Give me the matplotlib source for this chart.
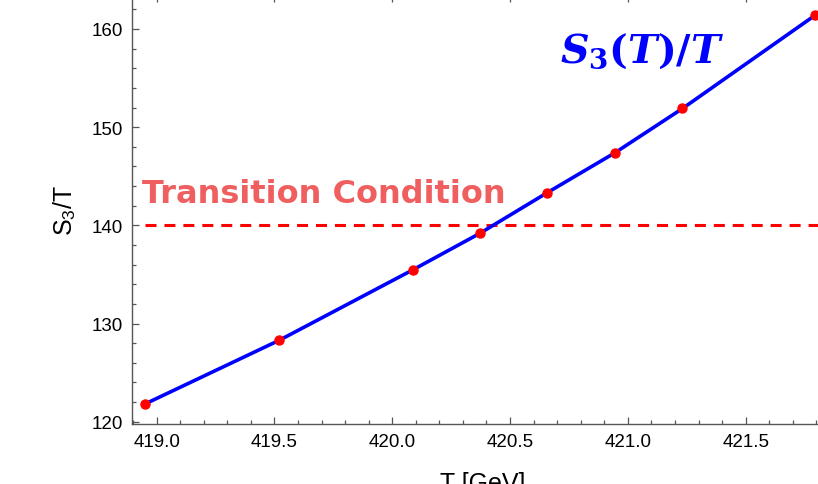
import matplotlib
matplotlib.use("Agg")
import matplotlib.pyplot as plt
from matplotlib.ticker import MultipleLocator

# S3/T versus temperature, with the nucleation condition line

T = [418.950, 419.521, 420.090, 420.373, 420.656, 420.946, 421.232, 421.795]
S3_over_T = [121.8, 128.3, 135.5, 139.2, 143.3, 147.4, 151.9, 161.4]
transition_value = 140.0

plt.rcParams['mathtext.fontset'] = 'custom'
plt.rcParams['mathtext.rm'] = 'DejaVu Serif:bold'
plt.rcParams['mathtext.bf'] = 'DejaVu Serif:bold'
plt.rcParams['mathtext.it'] = 'DejaVu Serif:italic:bold'
plt.rcParams['mathtext.sf'] = 'Liberation Sans'

fig = plt.figure(figsize=(8.18, 4.85), dpi=100)
ax = fig.add_axes([0.161, 0.1227, 0.8414, 0.8856])

ax.plot(T, S3_over_T, color='#0000FF', lw=2.6, zorder=3)
ax.plot(T, S3_over_T, 'o', color='#FF0000', ms=6.5, zorder=4)
ax.hlines(transition_value, T[0], 422.0, colors='#FF0000', lw=2.2,
          linestyles=(0, (3.6, 2.6)), zorder=2)

ax.text(418.936, 142.41, 'Transition Condition', color='#EF5F5F',
        fontsize=23, fontweight='bold', family='DejaVu Sans', va='baseline')
ax.text(420.7125, 156.61, r'$S_3(T)/T$', color='#0000FF', fontsize=28.5,
        va='baseline')

ax.set_xlim(418.894, 421.8155)
ax.set_ylim(119.715, 163.463)

ax.xaxis.set_major_locator(MultipleLocator(0.5))
ax.xaxis.set_minor_locator(MultipleLocator(0.1))
ax.yaxis.set_major_locator(MultipleLocator(10))
ax.yaxis.set_minor_locator(MultipleLocator(2))
ax.xaxis.set_major_formatter(lambda v, p: f'{v:.1f}')

for s in ax.spines.values():
    s.set_color('#555555')
    s.set_linewidth(1.0)
ax.spines['right'].set_visible(False)

ax.tick_params(which='both', direction='in', top=True, right=False,
               color='#555555', width=0.9, labelsize=13.5, pad=6)
ax.tick_params(which='major', length=5)
ax.tick_params(which='minor', length=2.7)
for lab in ax.get_xticklabels() + ax.get_yticklabels():
    lab.set_family('Liberation Sans')

ax.set_xlabel('T [GeV]', fontsize=18, family='Liberation Sans', labelpad=15)
ax.set_ylabel(r'$\mathsf{S}_\mathsf{3}\mathsf{/T}$', fontsize=18, labelpad=10)
ax.xaxis.set_label_coords(0.51, -0.108)

fig.savefig('out.png', dpi=100)
